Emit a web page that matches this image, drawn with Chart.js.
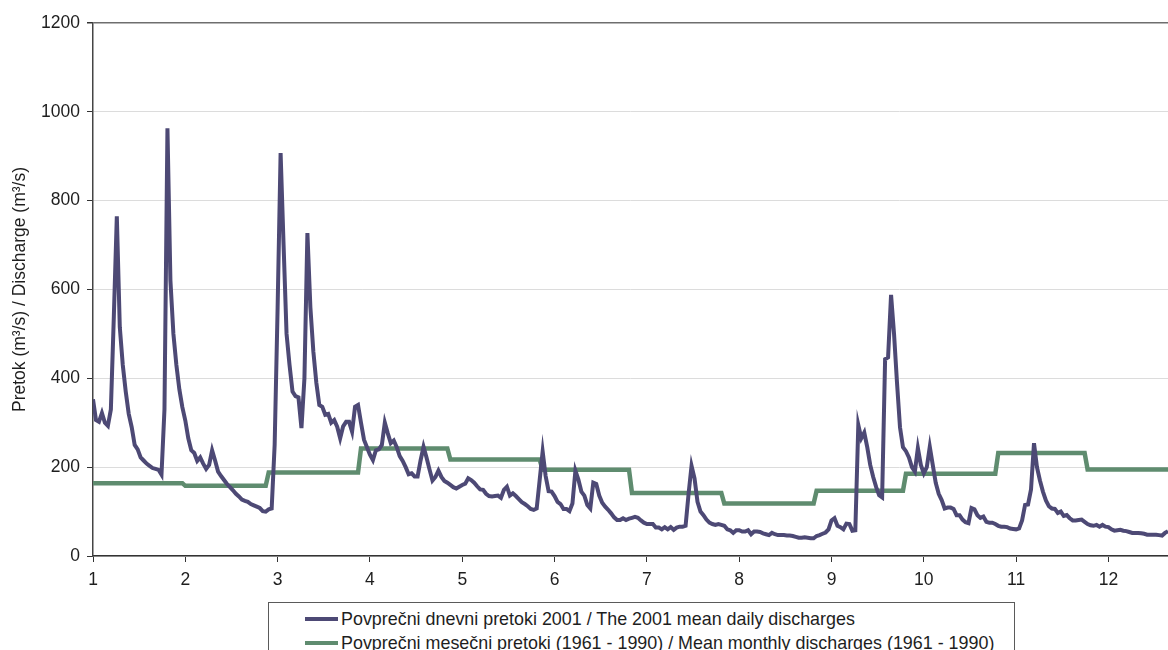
<!DOCTYPE html>
<html>
<head>
<meta charset="utf-8">
<title>Pretoki 2001</title>
<script src="https://cdn.jsdelivr.net/npm/chart.js@4.4.1/dist/chart.umd.min.js"></script>
<style>
  body { margin: 0; background: #fff; }
  .wrap { position: relative; width: 1168px; height: 650px; overflow: hidden; }
  .legend {
    position: absolute; left: 268px; top: 602px; width: 745px; height: 80px;
    border: 1px solid #5a5a5a; background: #fff;
    font: 17.9px 'Liberation Sans', Arial, sans-serif; color: #1e1e1e;
  }
  .legend .item { position: absolute; left: 36px; height: 20px; line-height: 20px; white-space: nowrap; }
  .legend .swatch { display: inline-block; width: 33px; height: 4px; vertical-align: middle; margin-right: 3px; position: relative; top: -1px; }
</style>
</head>
<body>
<div class="wrap">
  <canvas id="flowChart" width="1168" height="650"></canvas>
  <div class="legend" id="legend"></div>
</div>
<script>
// mean daily discharge 2001, one value per day from 1 January
const dailyFlow = [
  353, 306, 302, 322, 300, 293, 330, 540, 765, 515,
  430, 370, 320, 290, 250, 240, 222, 215, 208, 203,
  198, 196, 194, 183, 330, 963, 620, 500, 430, 375,
  335, 305, 265, 238, 232, 214, 222, 208, 196, 205,
  238, 215, 190, 180, 171, 162, 155, 148, 140, 134,
  127, 124, 122, 117, 114, 111, 108, 101, 100, 105,
  107, 250, 560, 907, 700, 500, 430, 370, 360, 357,
  288, 400, 727, 560, 460, 390, 340, 336, 318, 320,
  300, 306, 291, 265, 292, 302, 302, 280, 336, 340,
  300, 262, 245, 228, 216, 238, 240, 250, 300, 276,
  254, 260, 245, 225, 214, 200, 184, 186, 179, 179,
  215, 246, 222, 195, 170, 178, 192, 178, 169, 165,
  160, 155, 152, 156, 160, 163, 175, 171, 165, 157,
  150, 149, 140, 135, 134, 135, 136, 131, 149, 156,
  136, 141, 135, 128, 121, 117, 112, 106, 104, 107,
  171, 235, 180, 146, 145, 135, 122, 117, 106, 106,
  101, 118, 192, 172, 145, 136, 115, 107, 165, 162,
  136, 120, 111, 104, 96, 87, 81, 81, 85, 81,
  84, 86, 88, 86, 80, 75, 72, 72, 72, 64,
  64, 60, 65, 60, 65, 59, 64, 66, 66, 68,
  140, 203, 175, 122, 100, 92, 82, 75, 72, 70,
  72, 70, 68, 60, 58, 52, 58, 58, 55, 55,
  58, 49, 55, 55, 54, 51, 49, 47, 52, 49,
  47, 47, 47, 46, 46, 45, 43, 41, 41, 42,
  41, 40, 40, 45, 47, 50, 53, 60, 80, 85,
  68, 65, 60, 73, 72, 57, 58, 295, 265, 278,
  245, 205, 178, 155, 137, 132, 443, 447, 588, 500,
  390, 290, 245, 236, 222, 200, 190, 243, 205, 186,
  200, 246, 205, 165, 140, 126, 107, 109, 109, 106,
  92, 92, 82, 76, 74, 108, 105, 92, 86, 89,
  77, 75, 75, 72, 68, 66, 66, 65, 62, 61,
  60, 62, 80, 115, 116, 150, 254, 200, 170, 145,
  125, 112, 107, 106, 97, 100, 90, 92, 85, 80,
  80, 81, 82, 77, 72, 69, 68, 70, 66, 70,
  66, 65, 60, 57, 58, 59, 57, 56, 54, 52,
  52, 52, 51, 50, 48, 48, 48, 48, 47, 46, 52, 56
];

// long-term monthly means 1961 - 1990
const monthlyMean = [164, 158, 188, 242, 217, 194, 142, 118, 147, 185, 232, 195];
const monthDays = [31, 28, 31, 30, 31, 30, 31, 31, 30, 31, 30, 31];
const monthLabels = ['1', '2', '3', '4', '5', '6', '7', '8', '9', '10', '11', '12'];
const yTicks = [0, 200, 400, 600, 800, 1000, 1200];

const seriesNames = [
  'Povprečni dnevni pretoki 2001 / The 2001 mean daily discharges',
  'Povprečni mesečni pretoki (1961 - 1990) / Mean monthly discharges (1961 - 1990)'
];
const colors = ['#4d4975', '#5f8c6f'];

const DAY_STEP = 31;   // axis ticks every 31 days
const LAST_DAY = 361;

// monthly means as a step line over the days of each month
const monthlySteps = [];
let start = 0;
monthlyMean.forEach((v, i) => {
  monthlySteps.push({ x: start, y: v });
  monthlySteps.push({ x: start + monthDays[i] - 1, y: v });
  start += monthDays[i];
});

const font = { family: "'Liberation Sans', Arial, sans-serif", size: 17.5 };

const chart = new Chart(document.getElementById('flowChart'), {
  type: 'line',
  data: {
    datasets: [
      {
        label: seriesNames[0],
        data: dailyFlow.map((v, i) => ({ x: i, y: v })),
        borderColor: colors[0],
        borderWidth: 4,
        pointRadius: 0,
        tension: 0
      },
      {
        label: seriesNames[1],
        data: monthlySteps,
        borderColor: colors[1],
        borderWidth: 4.5,
        pointRadius: 0,
        tension: 0
      }
    ]
  },
  options: {
    responsive: false,
    animation: false,
    devicePixelRatio: 1,
    layout: { padding: { top: 23, right: 0, bottom: 54, left: 0 } },
    plugins: {
      legend: { display: false },
      tooltip: { enabled: false }
    },
    scales: {
      x: {
        type: 'linear',
        min: 0,
        max: LAST_DAY,
        afterBuildTicks: s => { s.ticks = monthLabels.map((m, i) => ({ value: i * DAY_STEP })); },
        afterFit: s => { s.height = 40; },
        ticks: {
          autoSkip: false,
          maxRotation: 0,
          padding: 8,
          color: '#1e1e1e',
          font: font,
          callback: (v, i) => monthLabels[i]
        },
        grid: { drawOnChartArea: false, drawTicks: true, tickLength: 6, tickColor: '#333' },
        border: { color: '#333', width: 1.5 }
      },
      y: {
        min: 0,
        max: 1200,
        afterBuildTicks: s => { s.ticks = yTicks.map(v => ({ value: v })); },
        afterFit: s => { s.width = 93; },
        ticks: { padding: 7, color: '#1e1e1e', font: font, callback: v => String(v) },
        grid: {
          color: c => (c.tick && c.tick.value === 1200) ? '#6e6e6e' : '#dcdcdc',
          lineWidth: c => (c.tick && c.tick.value === 1200) ? 1.5 : 1,
          tickColor: '#333',
          tickLength: 6
        },
        border: { color: '#444', width: 1.5 },
        title: {
          display: true,
          text: 'Pretok (m³/s) / Discharge (m³/s)',
          color: '#1e1e1e',
          font: font,
          padding: { top: 10, bottom: 0 }
        }
      }
    }
  }
});

// legend box under the plot, built from the datasets
const legend = document.getElementById('legend');
chart.data.datasets.forEach((ds, i) => {
  const item = document.createElement('div');
  item.className = 'item';
  item.style.top = (6 + i * 24) + 'px';
  const sw = document.createElement('span');
  sw.className = 'swatch';
  sw.style.background = ds.borderColor;
  item.appendChild(sw);
  item.appendChild(document.createTextNode(ds.label));
  legend.appendChild(item);
});
</script>
</body>
</html>
